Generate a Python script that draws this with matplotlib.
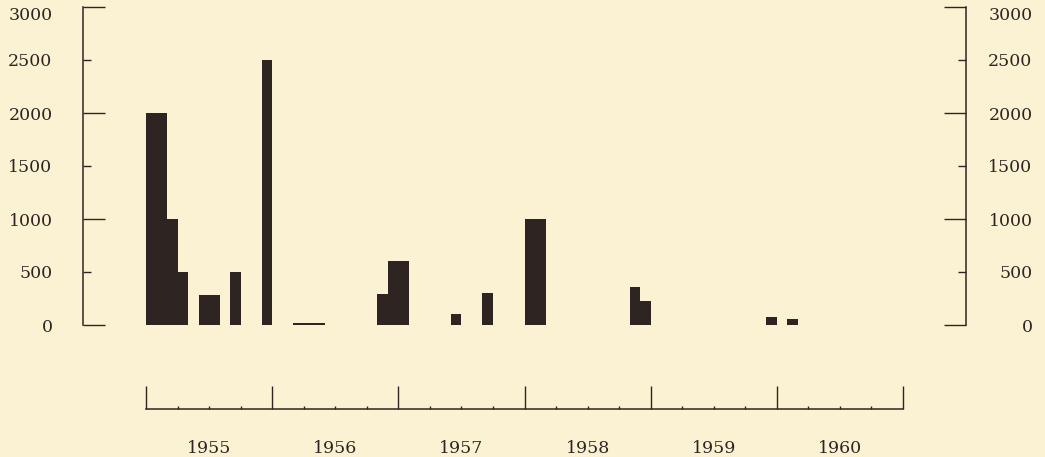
import matplotlib.pyplot as plt
import numpy as np
from matplotlib.transforms import ScaledTranslation

# monthly values (months with nothing are left out)
months = ["1955-01", "1955-02", "1955-03", "1955-04", "1955-06", "1955-07",
          "1955-09", "1955-12", "1956-03", "1956-04", "1956-05", "1956-11",
          "1956-12", "1957-01", "1957-06", "1957-09", "1958-01", "1958-02",
          "1958-11", "1958-12", "1959-12", "1960-02"]
values = [2000, 2000, 1000, 500, 280, 280,
          500, 2500, 15, 15, 15, 290,
          600, 600, 100, 300, 1000, 1000,
          360, 230, 75, 55]
years = [1955, 1956, 1957, 1958, 1959, 1960]

bg = '#FBF2D3'
ink = '#2E2523'
W, H = 1045, 457

# month number counted from January of the first year
x = [(int(m[:4]) - years[0]) * 12 + int(m[5:]) - 1 for m in months]
n_months = 12 * len(years)

plt.rcParams['font.family'] = 'DejaVu Serif'
fig = plt.figure(figsize=(W / 100, H / 100), dpi=100, facecolor=bg)

left, right = 83 / W, 966 / W
ax = fig.add_axes([left, 132 / H, right - left, 318 / H])
ax.set_facecolor(bg)
ax.bar(x, values, width=1.0, align='edge', color=ink, linewidth=0)
ax.set_xlim(-6, 78)
ax.set_ylim(0, 3000)
for s in ['top', 'bottom']:
    ax.spines[s].set_visible(False)
for s in ['left', 'right']:
    ax.spines[s].set_color(ink)
    ax.spines[s].set_linewidth(1.1)
ax.set_xticks([])

major = [0, 1000, 2000, 3000]
minor = [500, 1500, 2500]
ax.set_yticks(major, [str(v) for v in major])
ax.set_yticks(minor, [str(v) for v in minor], minor=True)
ax.tick_params(axis='y', which='both', direction='in', left=True, right=True,
               labelleft=True, labelright=True, colors=ink, labelsize=12.5,
               width=1.0, pad=22)
ax.tick_params(axis='y', which='major', length=16)
ax.tick_params(axis='y', which='minor', length=5.8)
# right-hand labels are right aligned in the original
shift = ScaledTranslation(36 / 100, 0, fig.dpi_scale_trans)
for t in ax.yaxis.get_major_ticks() + ax.yaxis.get_minor_ticks():
    t.label2.set_horizontalalignment('right')
    t.label2.set_transform(t.label2.get_transform() + shift)
# top label sits a little below its tick
down = ScaledTranslation(0, -7 / 100, fig.dpi_scale_trans)
top_tick = ax.yaxis.get_major_ticks()[-1]
top_tick.label1.set_transform(top_tick.label1.get_transform() + down)
top_tick.label2.set_transform(top_tick.label2.get_transform() + down)

# separate time line underneath
ax2 = fig.add_axes([left, 48 / H, right - left, 40 / H])
ax2.set_facecolor('none')
ax2.set_xlim(-6, 78)
ax2.set_ylim(0, 1)
for s in ['top', 'left', 'right']:
    ax2.spines[s].set_visible(False)
ax2.spines['bottom'].set_bounds(0, n_months)
ax2.spines['bottom'].set_color(ink)
ax2.spines['bottom'].set_linewidth(1.1)
ax2.set_yticks([])
ax2.set_xticks(np.arange(0, n_months + 1, 12), [''] * (len(years) + 1))
quarters = [q for q in range(3, n_months, 3) if q % 12]
ax2.set_xticks(quarters, [str(years[q // 12]) if q % 12 == 6 else '' for q in quarters], minor=True)
ax2.tick_params(axis='x', which='both', direction='in', colors=ink, width=1.0,
                labelsize=12.5, pad=22)
ax2.tick_params(axis='x', which='major', length=16.5)
ax2.tick_params(axis='x', which='minor', length=2.2)

fig.savefig('out.png', dpi=100, facecolor=bg)
